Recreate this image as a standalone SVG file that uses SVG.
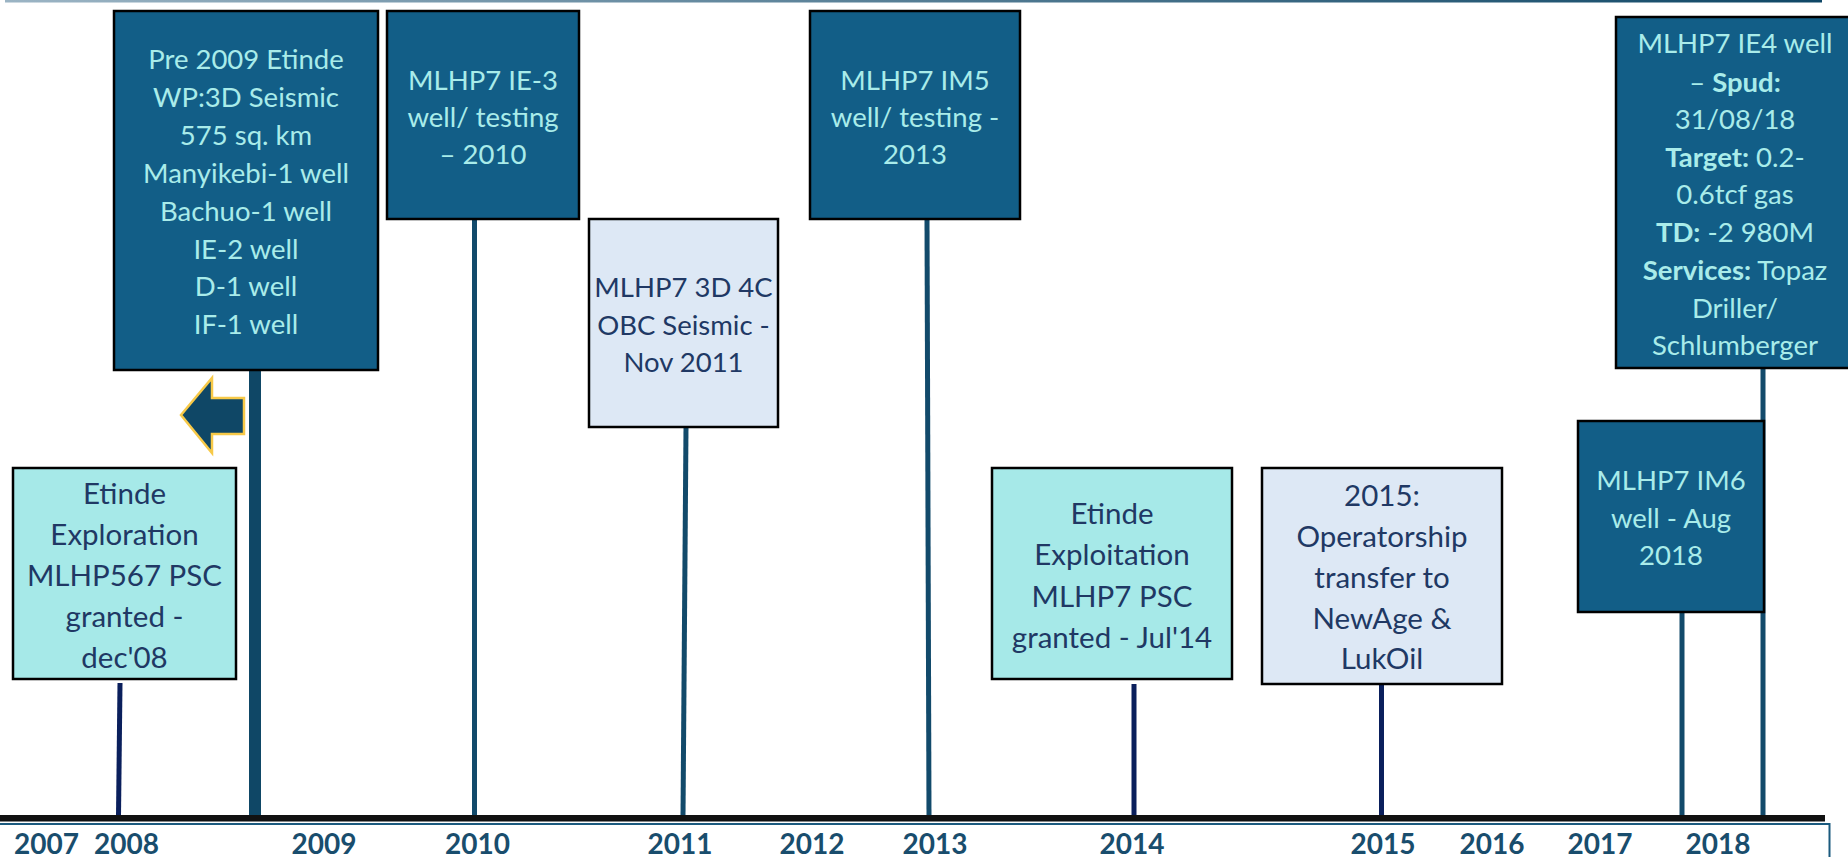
<svg xmlns="http://www.w3.org/2000/svg" width="1848" height="857" viewBox="0 0 1848 857">
<defs>
<linearGradient id="topg" x1="0" y1="0" x2="1" y2="0">
<stop offset="0" stop-color="#9bb4c4"/>
<stop offset="1" stop-color="#0f4766"/>
</linearGradient>
<style>
.dark{fill:#125e87;stroke:#000;stroke-width:2.5}
.aqua{fill:#a6e9e8;stroke:#000;stroke-width:2.5}
.pale{fill:#dde8f5;stroke:#000;stroke-width:2.5}
.t{font-family:Lato,"Open Sans","Liberation Sans",sans-serif;text-anchor:middle}
.lt{fill:#a9ecea;font-size:27.5px}
.nv{fill:#203864;font-size:29.5px}
.nv2{fill:#203864;font-size:27.5px}
.b{font-weight:bold}
.yr{font-family:Lato,"Open Sans","Liberation Sans",sans-serif;font-weight:bold;font-size:28px;fill:#194d6d;text-anchor:middle}
.stem{stroke:#124a6b;stroke-width:5;fill:none}
.stemn{stroke:#0a1f5c;stroke-width:5;fill:none}
</style>
</defs>
<rect width="1848" height="857" fill="#fff"/>
<rect x="5" y="0" width="1817" height="2.5" fill="url(#topg)"/>

<g id="connectors">
<line class="stem" x1="255" y1="370" x2="255" y2="816" style="stroke-width:12;stroke:#0f4766"/>
<line class="stem" x1="474.5" y1="220" x2="474.5" y2="816"/>
<line class="stem" x1="686" y1="427" x2="683" y2="816"/>
<line class="stem" x1="927" y1="220" x2="929" y2="816"/>
<line class="stemn" x1="1134" y1="684" x2="1134" y2="816"/>
<line class="stemn" x1="1381.5" y1="684" x2="1381.5" y2="816"/>
<line class="stem" x1="1682" y1="612" x2="1682" y2="816"/>
<line class="stem" x1="1763" y1="368" x2="1763" y2="816"/>
<line class="stemn" x1="120" y1="683" x2="118.5" y2="816"/>
<polygon id="arrow" points="181,415 212,378 212,398 244,398 244,434 212,434 212,453" fill="#0f4766" stroke="#f7c948" stroke-width="2.5" stroke-linejoin="miter"/>
</g>

<g id="axis">
<rect x="0" y="815" width="1825" height="6.5" fill="#111"/>
<polyline points="0,824 1829.5,824 1829.5,860" fill="none" stroke="#1b5a7e" stroke-width="2"/>
<text class="yr" x="46.5" y="854">2007</text>
<text class="yr" x="126.5" y="854">2008</text>
<text class="yr" x="324" y="854">2009</text>
<text class="yr" x="477.5" y="854">2010</text>
<text class="yr" x="680" y="854">2011</text>
<text class="yr" x="812" y="854">2012</text>
<text class="yr" x="935" y="854">2013</text>
<text class="yr" x="1132" y="854">2014</text>
<text class="yr" x="1383" y="854">2015</text>
<text class="yr" x="1492" y="854">2016</text>
<text class="yr" x="1600" y="854">2017</text>
<text class="yr" x="1718" y="854">2018</text>
</g>

<g id="n-pre2009">
<rect class="dark" x="114" y="11" width="264" height="359"/>
<text class="t lt" x="246" y="69">Pre 2009 Etinde</text>
<text class="t lt" x="246" y="107">WP:3D Seismic</text>
<text class="t lt" x="246" y="145">575 sq. km</text>
<text class="t lt" x="246" y="183">Manyikebi-1 well</text>
<text class="t lt" x="246" y="221">Bachuo-1 well</text>
<text class="t lt" x="246" y="259">IE-2 well</text>
<text class="t lt" x="246" y="296">D-1 well</text>
<text class="t lt" x="246" y="334">IF-1 well</text>
</g>

<g id="n-ie3">
<rect class="dark" x="387" y="11" width="192" height="208"/>
<text class="t lt" x="483" y="90">MLHP7 IE-3</text>
<text class="t lt" x="483" y="127">well/ testing</text>
<text class="t lt" x="483" y="164">– 2010</text>
</g>

<g id="n-obc">
<rect class="pale" x="589" y="219" width="189" height="208"/>
<text class="t nv2" x="683.5" y="297">MLHP7 3D 4C</text>
<text class="t nv2" x="683.5" y="335">OBC Seismic -</text>
<text class="t nv2" x="683.5" y="372">Nov 2011</text>
</g>

<g id="n-im5">
<rect class="dark" x="810" y="11" width="210" height="208"/>
<text class="t lt" x="915" y="90">MLHP7 IM5</text>
<text class="t lt" x="915" y="127">well/ testing -</text>
<text class="t lt" x="915" y="164">2013</text>
</g>

<g id="n-exploitation">
<rect class="aqua" x="992" y="468" width="240" height="211"/>
<text class="t nv" x="1112" y="524">Etinde</text>
<text class="t nv" x="1112" y="565">Exploitation</text>
<text class="t nv" x="1112" y="607">MLHP7 PSC</text>
<text class="t nv" x="1112" y="648">granted - Jul'14</text>
</g>

<g id="n-operatorship">
<rect class="pale" x="1262" y="468" width="240" height="216"/>
<text class="t nv" x="1382" y="506">2015:</text>
<text class="t nv" x="1382" y="547">Operatorship</text>
<text class="t nv" x="1382" y="588">transfer to</text>
<text class="t nv" x="1382" y="629">NewAge &amp;</text>
<text class="t nv" x="1382" y="669">LukOil</text>
</g>

<g id="n-im6">
<rect class="dark" x="1578" y="421" width="186" height="191"/>
<text class="t lt" x="1671" y="490">MLHP7 IM6</text>
<text class="t lt" x="1671" y="528">well - Aug</text>
<text class="t lt" x="1671" y="565">2018</text>
</g>

<g id="n-ie4">
<rect class="dark" x="1616" y="17" width="250" height="351"/>
<text class="t lt" x="1735" y="53">MLHP7 IE4 well</text>
<text class="t lt" x="1735" y="92">– <tspan class="b">Spud:</tspan></text>
<text class="t lt" x="1735" y="129">31/08/18</text>
<text class="t lt" x="1735" y="167"><tspan class="b">Target:</tspan> 0.2-</text>
<text class="t lt" x="1735" y="204">0.6tcf gas</text>
<text class="t lt" x="1735" y="242"><tspan class="b">TD:</tspan> -2 980M</text>
<text class="t lt" x="1735" y="280"><tspan class="b">Services:</tspan> Topaz</text>
<text class="t lt" x="1735" y="318">Driller/</text>
<text class="t lt" x="1735" y="355">Schlumberger</text>
</g>

<g id="n-exploration">
<rect class="aqua" x="13" y="468" width="223" height="211"/>
<text class="t nv" x="124.5" y="504">Etinde</text>
<text class="t nv" x="124.5" y="545">Exploration</text>
<text class="t nv" x="124.5" y="586">MLHP567 PSC</text>
<text class="t nv" x="124.5" y="627">granted -</text>
<text class="t nv" x="124.5" y="668">dec'08</text>
</g>
</svg>
